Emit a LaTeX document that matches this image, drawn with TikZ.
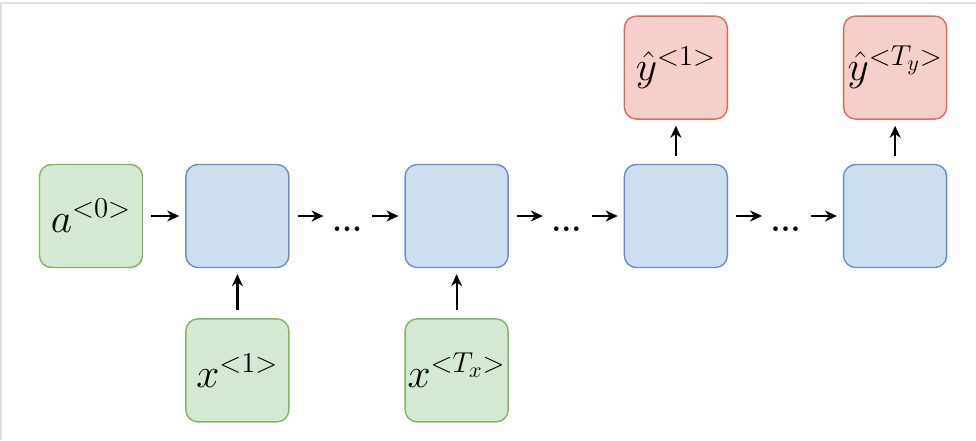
\documentclass[tikz,border=0pt]{standalone}
\usepackage{amsmath}
\usetikzlibrary{positioning,arrows.meta}
\definecolor{ingreen}{HTML}{D5E8D4}
\definecolor{ingreenline}{HTML}{82B366}
\definecolor{hidblue}{HTML}{CDDEEE}
\definecolor{hidblueline}{HTML}{6C8EBF}
\definecolor{outred}{HTML}{F6CECA}
\definecolor{outredline}{HTML}{E5655F}

\begin{document}
\begin{tikzpicture}[font=\fontsize{21}{25}\selectfont, node distance=20pt and 20pt,
  cell/.style={draw, rounded corners=6pt, minimum width=51.5pt, minimum height=51.5pt, inner sep=0pt, line width=0.7pt},
  inp/.style={cell, draw=ingreenline, fill=ingreen},
  hid/.style={cell, draw=hidblueline, fill=hidblue},
  outp/.style={cell, draw=outredline, fill=outred},
  dots/.style={inner xsep=1pt, inner ysep=0pt, text height=15pt, text depth=0pt, font=\fontsize{16}{18}\selectfont\bfseries},
  arr/.style={-{Stealth[length=6pt,width=5.5pt]}, line width=1.1pt, shorten <=4pt, shorten >=3pt},
  edgeline/.style={draw=black!12, line width=1pt}]
\useasboundingbox (0,0) rectangle (488pt,-220pt);
\draw[edgeline] (0.5pt,-220pt) -- (0.5pt,-1.5pt) -- (488pt,-1.5pt);
% recurrent chain
\node[inp] (a0) at (45.5pt,-108pt) {$a^{<0>}$};
\node[hid, right=21pt of a0] (h1) {};
\node[dots, right=of h1] (d1) {...};
\node[hid, right=of d1] (h2) {};
\node[dots, right=of h2] (d2) {...};
\node[hid, right=of d2] (h3) {};
\node[dots, right=of h3] (d3) {...};
\node[hid, right=of d3] (h4) {};
% inputs and outputs
\node[inp, below=25pt of h1] (x1) {$x^{<1>}$};
\node[inp, below=25pt of h2] (xT) {$x^{<T_x>}$};
\node[outp, above=22pt of h3] (y1) {$\hat{y}^{<1>}$};
\node[outp, above=22pt of h4] (yT) {$\hat{y}^{<T_y>}$};
\draw[arr] (a0) -- (h1); \draw[arr] (h1) -- (d1); \draw[arr] (d1) -- (h2); \draw[arr] (h2) -- (d2);
\draw[arr] (d2) -- (h3); \draw[arr] (h3) -- (d3); \draw[arr] (d3) -- (h4);
\draw[arr] (x1) -- (h1); \draw[arr] (xT) -- (h2); \draw[arr] (h3) -- (y1); \draw[arr] (h4) -- (yT);
\end{tikzpicture}
\end{document}
